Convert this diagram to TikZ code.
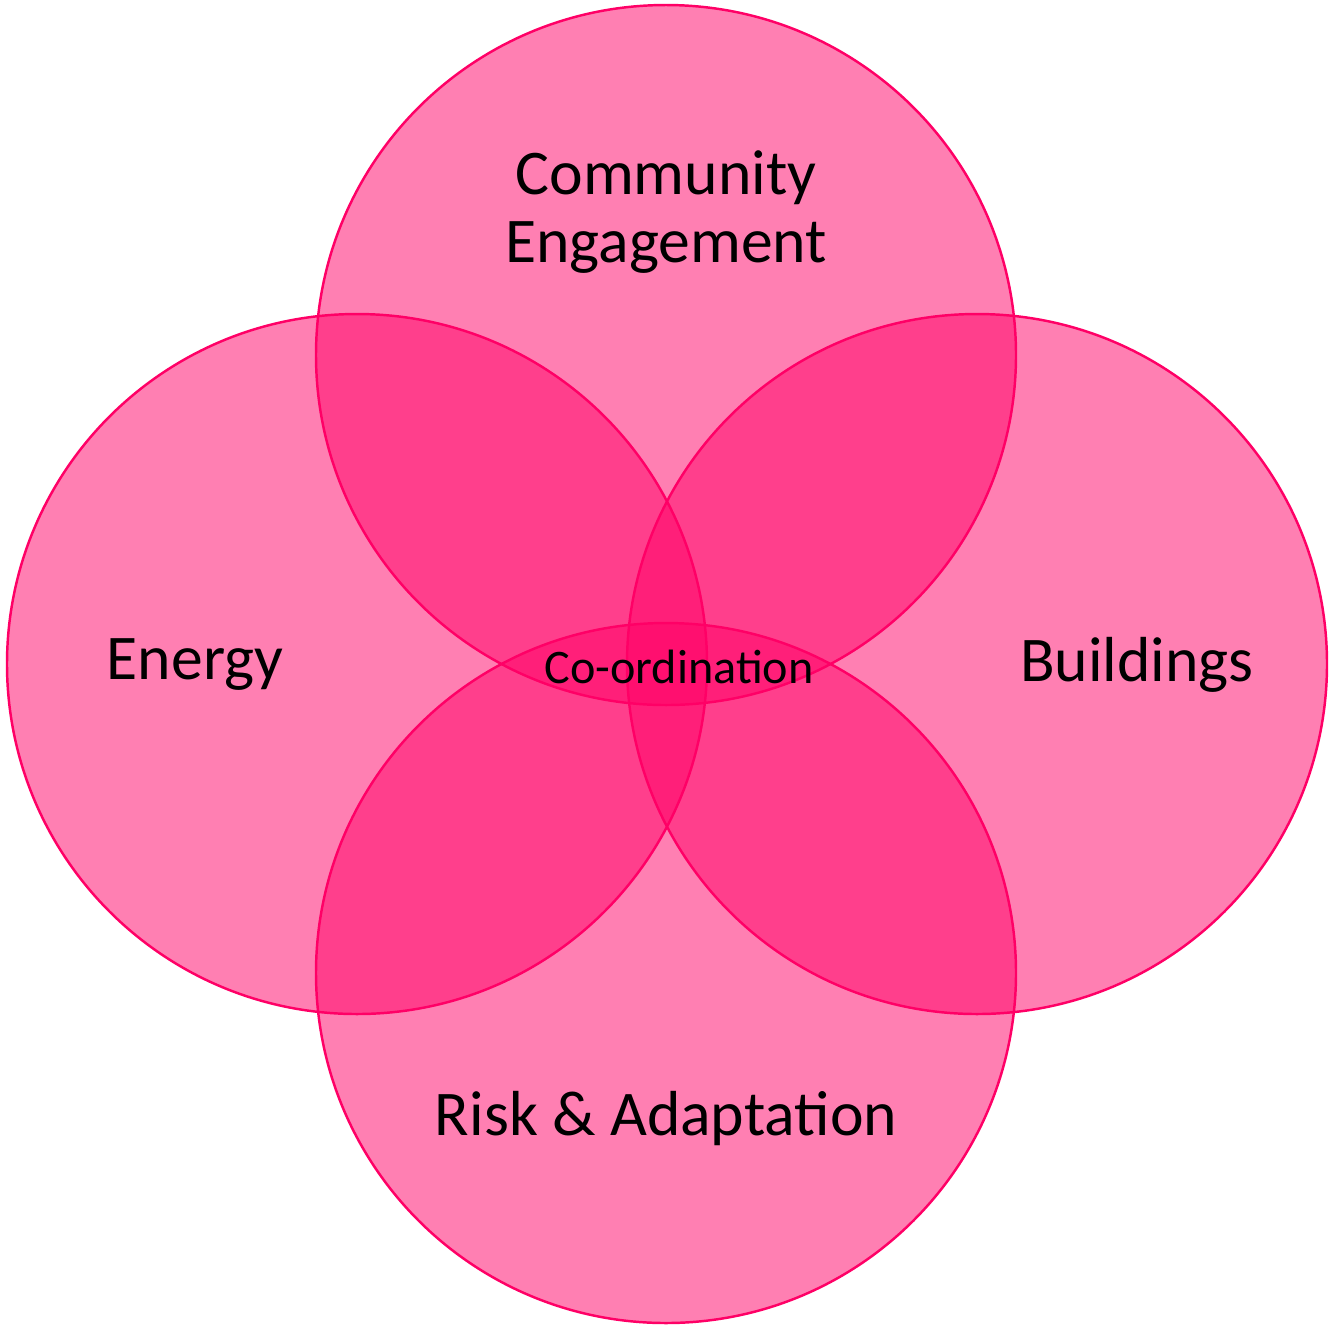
\documentclass[tikz,border=0pt]{standalone}
\usepackage{fontspec}
\setmainfont{Carlito}
\definecolor{vennpink}{RGB}{255,0,102}
\begin{document}
\begin{tikzpicture}[x=0.01cm,y=-0.01cm,
    venn/.style={fill=vennpink, fill opacity=0.5, draw=vennpink, draw opacity=1, line width=0.7pt},
    biglabel/.style={font=\fontsize{18.1}{19.4}\selectfont, align=center, text=black},
    smalllabel/.style={font=\fontsize{13.7}{15}\selectfont, text=black}]
    \useasboundingbox (0,0) rectangle (1330,1326);
    % the four circles
    \filldraw[venn] (666,355) circle (350);
    \filldraw[venn] (357,664) circle (350);
    \filldraw[venn] (977,664) circle (350);
    \filldraw[venn] (666,973) circle (350);
    % labels
    \node[biglabel] (community) at (666,212) {Community\\Engagement};
    \node[biglabel] (energy) at (195,665) {Energy};
    \node[biglabel] (buildings) at (1137,665) {Buildings};
    \node[biglabel] (risk) at (666,1119) {Risk \& Adaptation};
    \node[smalllabel] (coord) at (679,667) {Co-ordination};
  \end{tikzpicture}
\end{document}
